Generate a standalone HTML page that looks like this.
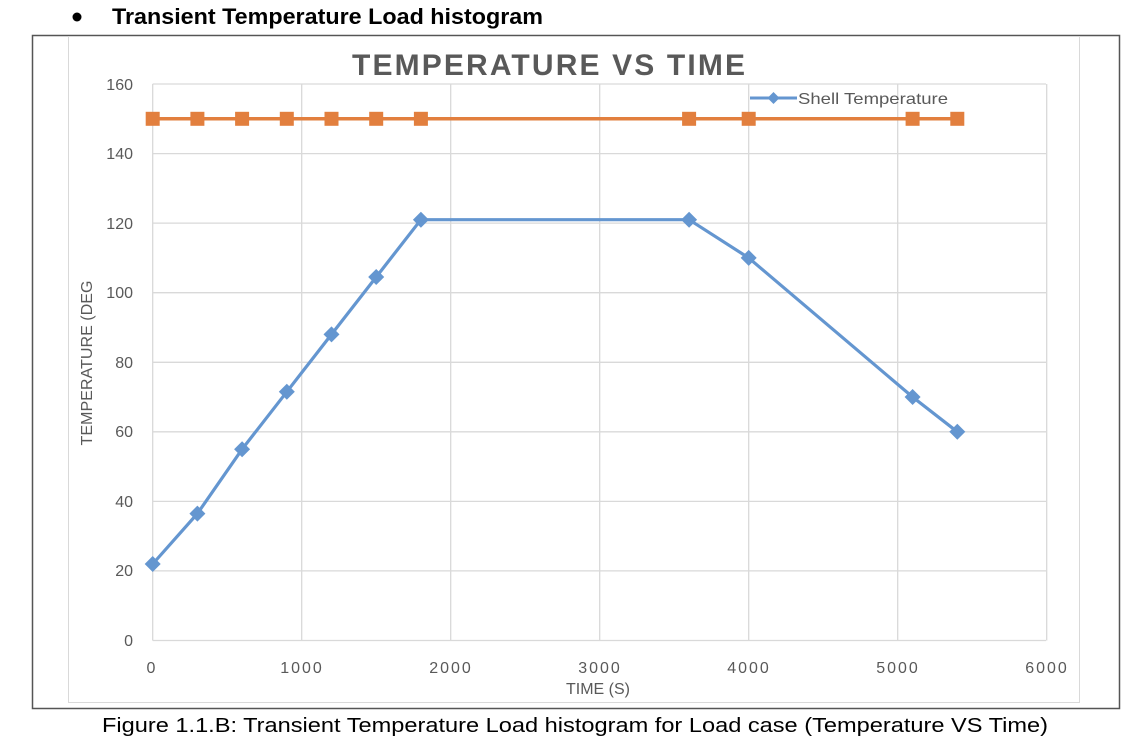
<!DOCTYPE html>
<html><head><meta charset="utf-8"><style>
html,body{margin:0;padding:0;background:#fff;}
svg{display:block;}
</style></head><body>
<svg width="1145" height="748" viewBox="0 0 1145 748" xmlns="http://www.w3.org/2000/svg" font-family="'Liberation Sans', sans-serif">
<rect width="1145" height="748" fill="#fff"/>
<!-- header -->
<circle cx="77" cy="17" r="4.5" fill="#000"/>
<text x="112" y="24" font-size="22" font-weight="bold" fill="#000" textLength="431" lengthAdjust="spacingAndGlyphs">Transient Temperature Load histogram</text>
<!-- outer border -->
<rect x="32.5" y="35.5" width="1087" height="673" fill="none" stroke="#555" stroke-width="1.5"/>
<!-- inner chart border -->
<rect x="68.5" y="36.5" width="1011" height="666" fill="none" stroke="#d9d9d9" stroke-width="1"/>
<!-- title -->
<text x="352" y="75" font-size="30" font-weight="bold" fill="#595959" textLength="393" lengthAdjust="spacing">TEMPERATURE VS TIME</text>
<!-- gridlines -->
<g stroke="#d9d9d9" stroke-width="1.3">
<line x1="152.7" y1="84" x2="1046" y2="84"/>
<line x1="152.7" y1="153.6" x2="1046" y2="153.6"/>
<line x1="152.7" y1="223.1" x2="1046" y2="223.1"/>
<line x1="152.7" y1="292.7" x2="1046" y2="292.7"/>
<line x1="152.7" y1="362.3" x2="1046" y2="362.3"/>
<line x1="152.7" y1="431.8" x2="1046" y2="431.8"/>
<line x1="152.7" y1="501.4" x2="1046" y2="501.4"/>
<line x1="152.7" y1="570.9" x2="1046" y2="570.9"/>
<line x1="152.7" y1="640.5" x2="1046" y2="640.5"/>
<line x1="152.7" y1="84" x2="152.7" y2="640.5"/>
<line x1="301.7" y1="84" x2="301.7" y2="640.5"/>
<line x1="450.7" y1="84" x2="450.7" y2="640.5"/>
<line x1="599.7" y1="84" x2="599.7" y2="640.5"/>
<line x1="748.7" y1="84" x2="748.7" y2="640.5"/>
<line x1="897.7" y1="84" x2="897.7" y2="640.5"/>
<line x1="1046.7" y1="84" x2="1046.7" y2="640.5"/>
</g>
<!-- y tick labels -->
<g font-size="16" fill="#595959" text-anchor="end">
<text x="133" y="90">160</text>
<text x="133" y="159">140</text>
<text x="133" y="229">120</text>
<text x="133" y="298">100</text>
<text x="133" y="368">80</text>
<text x="133" y="437">60</text>
<text x="133" y="507">40</text>
<text x="133" y="576">20</text>
<text x="133" y="646">0</text>
</g>
<!-- x tick labels -->
<g font-size="16" fill="#595959" text-anchor="middle" letter-spacing="2">
<text x="152" y="673">0</text>
<text x="302" y="673">1000</text>
<text x="451" y="673">2000</text>
<text x="600" y="673">3000</text>
<text x="749" y="673">4000</text>
<text x="898" y="673">5000</text>
<text x="1047" y="673">6000</text>
</g>
<text x="598" y="694" font-size="16" fill="#595959" text-anchor="middle">TIME (S)</text>
<text transform="translate(92,363) rotate(-90)" font-size="16" fill="#595959" text-anchor="middle" textLength="165" lengthAdjust="spacingAndGlyphs">TEMPERATURE (DEG</text>
<!-- orange series -->
<polyline fill="none" stroke="#E27F3E" stroke-width="3.5" points="152.7,118.8 197.4,118.8 242.1,118.8 286.8,118.8 331.5,118.8 376.2,118.8 420.9,118.8 689.1,118.8 748.7,118.8 912.6,118.8 957.3,118.8"/>
<g fill="#E27F3E">
<rect x="145.7" y="111.8" width="14" height="14"/>
<rect x="190.4" y="111.8" width="14" height="14"/>
<rect x="235.1" y="111.8" width="14" height="14"/>
<rect x="279.8" y="111.8" width="14" height="14"/>
<rect x="324.5" y="111.8" width="14" height="14"/>
<rect x="369.2" y="111.8" width="14" height="14"/>
<rect x="413.9" y="111.8" width="14" height="14"/>
<rect x="682.1" y="111.8" width="14" height="14"/>
<rect x="741.7" y="111.8" width="14" height="14"/>
<rect x="905.6" y="111.8" width="14" height="14"/>
<rect x="950.3" y="111.8" width="14" height="14"/>
</g>
<!-- blue series -->
<polyline fill="none" stroke="#6496D0" stroke-width="3.2" points="152.7,564 197.4,513.6 242.1,449.2 286.8,391.8 331.5,334.4 376.2,277 420.9,219.7 689.1,219.7 748.7,257.9 912.6,397 957.3,431.8"/>
<g fill="#6496D0">
<path d="M152.7,556 l8,8 l-8,8 l-8,-8z"/>
<path d="M197.4,505.6 l8,8 l-8,8 l-8,-8z"/>
<path d="M242.1,441.2 l8,8 l-8,8 l-8,-8z"/>
<path d="M286.8,383.8 l8,8 l-8,8 l-8,-8z"/>
<path d="M331.5,326.4 l8,8 l-8,8 l-8,-8z"/>
<path d="M376.2,269 l8,8 l-8,8 l-8,-8z"/>
<path d="M420.9,211.7 l8,8 l-8,8 l-8,-8z"/>
<path d="M689.1,211.7 l8,8 l-8,8 l-8,-8z"/>
<path d="M748.7,249.9 l8,8 l-8,8 l-8,-8z"/>
<path d="M912.6,389 l8,8 l-8,8 l-8,-8z"/>
<path d="M957.3,423.8 l8,8 l-8,8 l-8,-8z"/>
</g>
<!-- legend -->
<line x1="750" y1="98" x2="797" y2="98" stroke="#6496D0" stroke-width="3"/>
<path d="M773.5,92 l6,6 l-6,6 l-6,-6z" fill="#6496D0"/>
<text x="798" y="104" font-size="16" fill="#595959" textLength="150" lengthAdjust="spacingAndGlyphs">Shell Temperature</text>
<!-- caption -->
<text x="102" y="732" font-size="20" fill="#000" textLength="946" lengthAdjust="spacingAndGlyphs">Figure 1.1.B: Transient Temperature Load histogram for Load case (Temperature VS Time)</text>
</svg>
</body></html>
